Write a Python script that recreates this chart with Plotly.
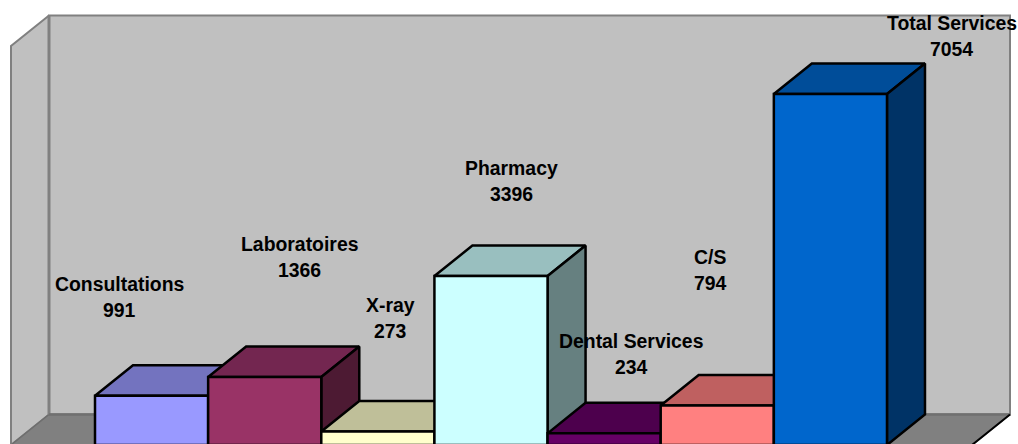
import plotly.graph_objects as go

categories = ["Consultations", "Laboratoires", "X-ray", "Pharmacy", "Dental Services", "C/S", "Total Services"]
values = [991, 1366, 273, 3396, 234, 794, 7054]
front_colors = ["#9999FF", "#993366", "#FFFFCC", "#CCFFFF", "#660066", "#FF8080", "#0066CC"]
top_colors = ["#7373BF", "#732650", "#BFBF99", "#99BFBF", "#4D004D", "#BF6060", "#004D99"]
side_colors = ["#4D4D80", "#4D1A33", "#808066", "#668080", "#330033", "#804040", "#003366"]

# label offsets from the top-centre of each bar's front face, in pixels
label_dx = [-32.5, 35, 13, 20.5, 27, -7, 121.5]
name_dy = [112, 133, 126, 108, 92, 149, 71]
value_dy = [86, 107, 100, 82, 66, 123, 45]

PX = 113.14          # pixels per category
PY = 0.04975         # pixels per value unit
W, H = 1018, 444
X0 = -0.5 - 95 / PX
BASE_PX = 445.0
Y0 = (BASE_PX - H) / PY
Y1 = BASE_PX / PY
X1 = X0 + W / PX
DX = 38 / PX         # chart depth, x
DY = 30.5 / PY       # chart depth, y
XL = X0 + 11 / PX    # front-left of the floor
XR = X0 + 972 / PX   # front-right of the floor
YT = (BASE_PX - 46) / PY  # wall top at the front


def poly(xs, ys, fill, line, lw):
    return go.Scatter(x=xs + xs[:1], y=ys + ys[:1], mode="lines", fill="toself",
                      fillcolor=fill, line=dict(color=line, width=lw),
                      hoverinfo="skip", showlegend=False)


def edge(xs, ys, color, lw):
    return go.Scatter(x=xs, y=ys, mode="lines", line=dict(color=color, width=lw),
                      hoverinfo="skip", showlegend=False)


traces = [
    poly([XL + DX, XR + DX, XR + DX, XL + DX], [DY, DY, YT + DY, YT + DY], "#C0C0C0", "#808080", 2),
    poly([XL, XL + DX, XL + DX, XL], [0, DY, YT + DY, YT], "#C0C0C0", "#808080", 2),
    poly([XL, XL + DX, XR + DX, XR], [0, DY, DY, 0], "#808080", "#6E6E6E", 1.5),
    edge([XL + DX, XL + DX], [DY, YT + DY], "#808080", 3),
    edge([XL + DX, XR + DX], [DY, DY], "#707070", 2.5),
    edge([XR, XR + DX], [0, DY], "#000000", 2),
]

w = 0.5
for i, v in enumerate(values):
    traces.append(poly([i - w, i + w, i + w + DX, i - w + DX], [v, v, v + DY, v + DY], top_colors[i], "#000000", 2.5))
    traces.append(poly([i + w, i + w + DX, i + w + DX, i + w], [0, DY, v + DY, v], side_colors[i], "#000000", 2.5))
    traces.append(poly([i - w, i + w, i + w, i - w], [0, 0, v, v], front_colors[i], "#000000", 2.5))

fig = go.Figure(traces)

for i, (name, v) in enumerate(zip(categories, values)):
    for text, dy in ((name, name_dy[i]), (str(v), value_dy[i])):
        fig.add_annotation(x=i, y=v, xref="x", yref="y", text=f"<b>{text}</b>", showarrow=False,
                           xshift=label_dx[i], yshift=dy, xanchor="center", yanchor="middle",
                           font=dict(family="Liberation Sans, Arial, sans-serif", size=19.4, color="#000000"))

fig.update_layout(
    width=W, height=H, margin=dict(l=0, r=0, t=0, b=0),
    paper_bgcolor="#FFFFFF", plot_bgcolor="#FFFFFF", showlegend=False,
    xaxis=dict(range=[X0, X1], visible=False, fixedrange=True),
    yaxis=dict(range=[Y0, Y1], visible=False, fixedrange=True),
)
fig.write_html("out.html", post_script="document.body.style.margin='0';document.body.style.overflow='hidden';",
               config=dict(displayModeBar=False))
